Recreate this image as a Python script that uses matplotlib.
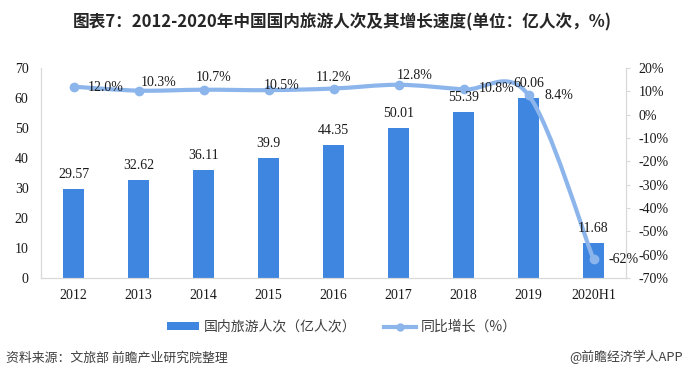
import matplotlib
matplotlib.use('Agg')
import matplotlib.pyplot as plt
from matplotlib.path import Path
from matplotlib.patches import PathPatch, Patch
from matplotlib.lines import Line2D
from matplotlib.ticker import FuncFormatter, MultipleLocator

plt.rcParams['font.family'] = ['Noto Sans CJK SC', 'DejaVu Sans']

# data
years = ['2012', '2013', '2014', '2015', '2016', '2017', '2018', '2019', '2020H1']
visitors = [29.57, 32.62, 36.11, 39.9, 44.35, 50.01, 55.39, 60.06, 11.68]
growth = [12.0, 10.3, 10.7, 10.5, 11.2, 12.8, 10.8, 8.4, -62]
growth_labels = ['12.0%', '10.3%', '10.7%', '10.5%', '11.2%', '12.8%', '10.8%', '8.4%', '-62%']

bar_color = '#3f86e0'
line_color = '#8cb5ec'
num_font = ['Liberation Serif', 'DejaVu Serif']

fig = plt.figure(figsize=(6.84, 3.78), dpi=100)
ax = fig.add_axes([41 / 684, 1 - 278 / 378, 585 / 684, 210 / 378])
ax2 = ax.twinx()

x = list(range(len(years)))
ax.bar(x, visitors, width=0.32, color=bar_color, zorder=2)
ax.set_xlim(-0.5, len(years) - 0.5)
ax.set_ylim(0, 70)
ax.yaxis.set_major_locator(MultipleLocator(10))
ax2.set_ylim(-70, 20)
ax2.yaxis.set_major_locator(MultipleLocator(10))
ax2.yaxis.set_major_formatter(FuncFormatter(lambda v, p: '%d%%' % round(v)))

# smoothed growth line (Catmull-Rom style bezier through the points)
pts = list(zip(x, growth))
verts = [pts[0]]
codes = [Path.MOVETO]
n = len(pts)
for i in range(n - 1):
    p0 = pts[i - 1] if i > 0 else pts[i]
    p1 = pts[i]
    p2 = pts[i + 1]
    p3 = pts[i + 2] if i + 2 < n else pts[i + 1]
    c1 = (p1[0] + (p2[0] - p0[0]) / 6, p1[1] + (p2[1] - p0[1]) / 6)
    c2 = (p2[0] - (p3[0] - p1[0]) / 6, p2[1] - (p3[1] - p1[1]) / 6)
    verts += [c1, c2, p2]
    codes += [Path.CURVE4, Path.CURVE4, Path.CURVE4]
ax2.add_patch(PathPatch(Path(verts, codes), facecolor='none', edgecolor=line_color,
                        lw=3, capstyle='round', zorder=3))
ax2.plot(x, growth, linestyle='none', marker='o', ms=6, color=line_color, zorder=4)

# bar value labels (drawn on top of the line)
for xi, v in zip(x, visitors):
    ax2.annotate('%g' % v, (xi, v), xycoords=ax.transData, xytext=(0, 8),
                 textcoords='offset pixels', ha='center', va='bottom', fontsize=10,
                 family=num_font, color='#1a1a1a', zorder=6)

# growth labels, offsets in pixels from each point (left edge, centre)
offsets = [(14, -1), (2, 8), (-8, 12), (-5, 5), (-18, 11), (-2, 9), (15, 1), (16, 0), (15, 0)]
for xi, g, lab, off in zip(x, growth, growth_labels, offsets):
    ax2.annotate(lab, (xi, g), xytext=off, textcoords='offset pixels',
                 ha='left', va='center', fontsize=10, family=num_font, color='#1a1a1a',
                 zorder=6)

# axes styling
for a in (ax, ax2):
    for s in a.spines.values():
        s.set_color('#d9d9d9')
    a.spines['top'].set_visible(False)
ax.set_xticks(x)
ax.set_xticklabels(years, family=num_font, fontsize=10, color='#1a1a1a')
ax.tick_params(axis='x', length=0, pad=8)
ax.tick_params(axis='y', length=0, pad=9)
for t in ax.get_yticklabels():
    t.set_family(num_font)
    t.set_fontsize(10)
    t.set_color('#1a1a1a')
ax2.tick_params(axis='y', length=3, color='#d9d9d9', pad=6)
for t in ax2.get_yticklabels():
    t.set_family(num_font)
    t.set_fontsize(10)
    t.set_color('#1a1a1a')

# title
fig.text(0.5, 1 - 22 / 378, '图表7：2012-2020年中国国内旅游人次及其增长速度(单位：亿人次，%)',
         ha='center', va='center', fontsize=12, fontweight='bold', color='#262626')

# legend
handles = [Patch(facecolor=bar_color, edgecolor='none'),
           Line2D([], [], color=line_color, lw=3, marker='o', ms=5)]
fig.legend(handles, ['国内旅游人次（亿人次）', '同比增长（%）'], loc='center',
           bbox_to_anchor=(0.5, 1 - 327 / 378), ncol=2, frameon=False,
           fontsize=10, handlelength=2.3, handleheight=0.5, handletextpad=0.35,
           columnspacing=2.0, labelcolor='#404040')

# footer
fig.text(6 / 684, 1 - 358 / 378, '资料来源：文旅部 前瞻产业研究院整理', ha='left', va='center',
         fontsize=9.3, color='#404040')
fig.text(683 / 684, 1 - 357 / 378, '@前瞻经济学人APP', ha='right', va='center',
         fontsize=9.3, color='#404040')

fig.savefig('out.png', dpi=100)
